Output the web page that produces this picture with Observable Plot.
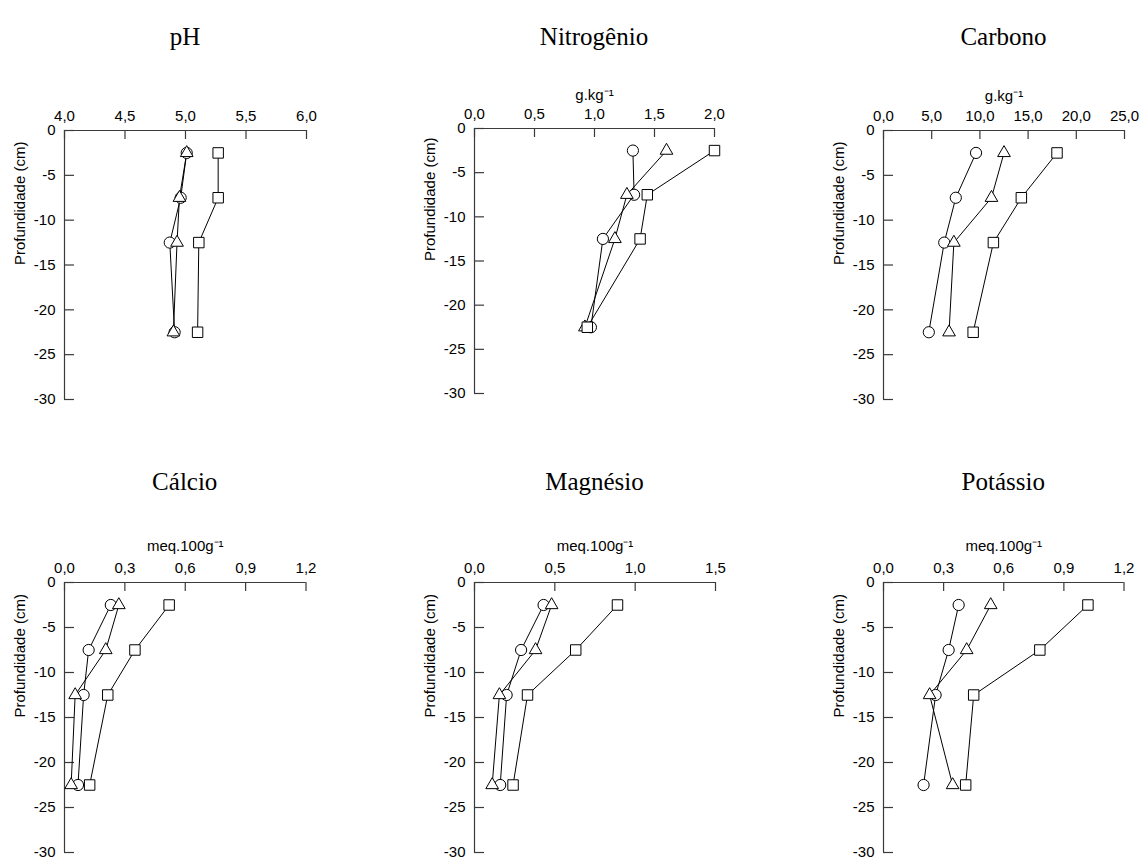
<!DOCTYPE html>
<html>
<head>
<meta charset="utf-8">
<script src="https://cdn.jsdelivr.net/npm/d3@7"></script>
<script src="https://cdn.jsdelivr.net/npm/@observablehq/plot@0.6"></script>
<style>
  html, body { margin: 0; padding: 0; background: #fff; }
  body { width: 1140px; height: 859px; overflow: hidden; position: relative; font-family: "Liberation Sans", Arial, sans-serif; }
  .panel { position: absolute; }
  .title { position: absolute; font-family: "Liberation Serif", "Times New Roman", serif; font-size: 25px; line-height: 25px; text-align: center; color: #000; white-space: nowrap; }
</style>
</head>
<body>
<script>
// ---- data ----
const depths = [-2.5, -7.5, -12.5, -22.5];
const yTicks = [0, -5, -10, -15, -20, -25, -30];

const phTicks = [4.0, 4.5, 5.0, 5.5, 6.0];
const phCircle = [5.01, 4.96, 4.87, 4.91];
const phTriangle = [5.01, 4.95, 4.93, 4.90];
const phSquare = [5.27, 5.27, 5.11, 5.10];

const nTicks = [0.0, 0.5, 1.0, 1.5, 2.0];
const nCircle = [1.32, 1.33, 1.07, 0.97];
const nTriangle = [1.60, 1.27, 1.17, 0.92];
const nSquare = [2.00, 1.44, 1.38, 0.94];

const cTicks = [0, 5, 10, 15, 20, 25];
const cCircle = [9.6, 7.5, 6.3, 4.7];
const cTriangle = [12.5, 11.2, 7.3, 6.8];
const cSquare = [18.0, 14.3, 11.4, 9.3];

const caTicks = [0.0, 0.3, 0.6, 0.9, 1.2];
const caCircle = [0.23, 0.12, 0.095, 0.067];
const caTriangle = [0.27, 0.205, 0.053, 0.033];
const caSquare = [0.52, 0.35, 0.215, 0.125];

const mgTicks = [0.0, 0.5, 1.0, 1.5];
const mgCircle = [0.43, 0.29, 0.20, 0.16];
const mgTriangle = [0.48, 0.38, 0.155, 0.11];
const mgSquare = [0.89, 0.63, 0.33, 0.24];

const kTicks = [0.0, 0.3, 0.6, 0.9, 1.2];
const kCircle = [0.375, 0.325, 0.26, 0.20];
const kTriangle = [0.535, 0.415, 0.23, 0.345];
const kSquare = [1.02, 0.78, 0.45, 0.41];

const titles = ["pH", "Nitrogênio", "Carbono", "Cálcio", "Magnésio", "Potássio"];
const units = [null, "g.kg⁻¹", "g.kg⁻¹", "meq.100g⁻¹", "meq.100g⁻¹", "meq.100g⁻¹"];
const yLabel = "Profundidade (cm)";

// ---- layout ----
const panels = [
  {ticks: phTicks, domain: [4, 6], circle: phCircle, triangle: phTriangle, square: phSquare, left: 64, right: 306, top: 130, bottom: 399, titleBase: 45, unitDy: -30},
  {ticks: nTicks, domain: [0, 2], circle: nCircle, triangle: nTriangle, square: nSquare, left: 474, right: 714, top: 128, bottom: 393, titleBase: 45, unitDy: -29},
  {ticks: cTicks, domain: [0, 25], circle: cCircle, triangle: cTriangle, square: cSquare, left: 883, right: 1124, top: 130, bottom: 399, titleBase: 45, unitDy: -30},
  {ticks: caTicks, domain: [0, 1.2], circle: caCircle, triangle: caTriangle, square: caSquare, left: 64, right: 305.5, top: 582, bottom: 852, titleBase: 490, unitDy: -32},
  {ticks: mgTicks, domain: [0, 1.5], circle: mgCircle, triangle: mgTriangle, square: mgSquare, left: 474, right: 715, top: 582, bottom: 852, titleBase: 490, unitDy: -32},
  {ticks: kTicks, domain: [0, 1.2], circle: kCircle, triangle: kTriangle, square: kSquare, left: 883, right: 1123.5, top: 582, bottom: 852, titleBase: 490, unitDy: -32}
];

const fmt = d => d.toFixed(1).replace(".", ",");
const axisColor = "#3a3a3a";

panels.forEach((p, k) => {
  const mt = 60, mb = 10, ml = 64, mr = 16;
  const pw = p.right - p.left, ph = p.bottom - p.top;
  const rows = [];
  [["circle", p.circle], ["triangle", p.triangle], ["square", p.square]].forEach(([sym, vals]) => {
    vals.forEach((v, i) => rows.push({sym, x: v, y: depths[i]}));
  });
  const tickLenX = 10 * (p.domain[1] - p.domain[0]) / pw; // inward y-axis ticks
  const tickLenY = 9 * 30 / ph; // inward x-axis ticks
  const x0 = p.domain[0];

  const chart = Plot.plot({
    width: ml + pw + mr,
    height: mt + ph + mb,
    marginLeft: ml, marginRight: mr, marginTop: mt, marginBottom: mb,
    style: {fontFamily: "'Liberation Sans', Arial, sans-serif", fontSize: "15px", color: "#000", background: "transparent", overflow: "visible"},
    x: {domain: p.domain},
    y: {domain: [-30, 0]},
    marks: [
      Plot.ruleY([0], {stroke: axisColor, strokeWidth: 1.2}),
      Plot.ruleX([x0], {stroke: axisColor, strokeWidth: 1.2}),
      Plot.ruleX(p.ticks, {x: d => d, y1: 0, y2: -tickLenY, stroke: axisColor, strokeWidth: 1.2}),
      Plot.ruleY(yTicks, {y: d => d, x1: x0, x2: x0 + tickLenX, stroke: axisColor, strokeWidth: 1.2}),
      Plot.axisX({anchor: "top", ticks: p.ticks, tickFormat: fmt, tickSize: 0, tickPadding: 10, label: null, fontSize: 15}),
      Plot.axisY({anchor: "left", ticks: yTicks, tickFormat: d => String(d), tickSize: 0, tickPadding: 9, label: null, fontSize: 15}),
      Plot.line(rows, {x: "x", y: "y", z: "sym", stroke: "#000", strokeWidth: 1}),
      Plot.dot(rows.filter(d => d.sym === "circle"), {x: "x", y: "y", symbol: "circle", r: 5.6, fill: "white", stroke: "#000", strokeWidth: 1}),
      Plot.dot(rows.filter(d => d.sym === "triangle"), {x: "x", y: "y", symbol: "triangle", r: 4.7, fill: "white", stroke: "#000", strokeWidth: 1}),
      Plot.dot(rows.filter(d => d.sym === "square"), {x: "x", y: "y", symbol: "square", r: 5.9, fill: "white", stroke: "#000", strokeWidth: 1}),
      units[k] ? Plot.text([units[k]], {text: d => d, frameAnchor: "top", dy: p.unitDy, lineAnchor: "bottom", fontSize: 15, fill: "#000"}) : null,
      Plot.text([yLabel], {text: d => d, frameAnchor: "left", dx: -44, rotate: -90, fontSize: 15, fill: "#000"})
    ]
  });

  const wrap = document.createElement("div");
  wrap.className = "panel";
  wrap.style.left = (p.left - ml) + "px";
  wrap.style.top = (p.top - mt) + "px";
  wrap.appendChild(chart);
  document.body.appendChild(wrap);

  const t = document.createElement("div");
  t.className = "title";
  t.textContent = titles[k];
  t.style.left = p.left + "px";
  t.style.width = pw + "px";
  t.style.top = (p.titleBase - 21) + "px";
  document.body.appendChild(t);
});
</script>
</body>
</html>
